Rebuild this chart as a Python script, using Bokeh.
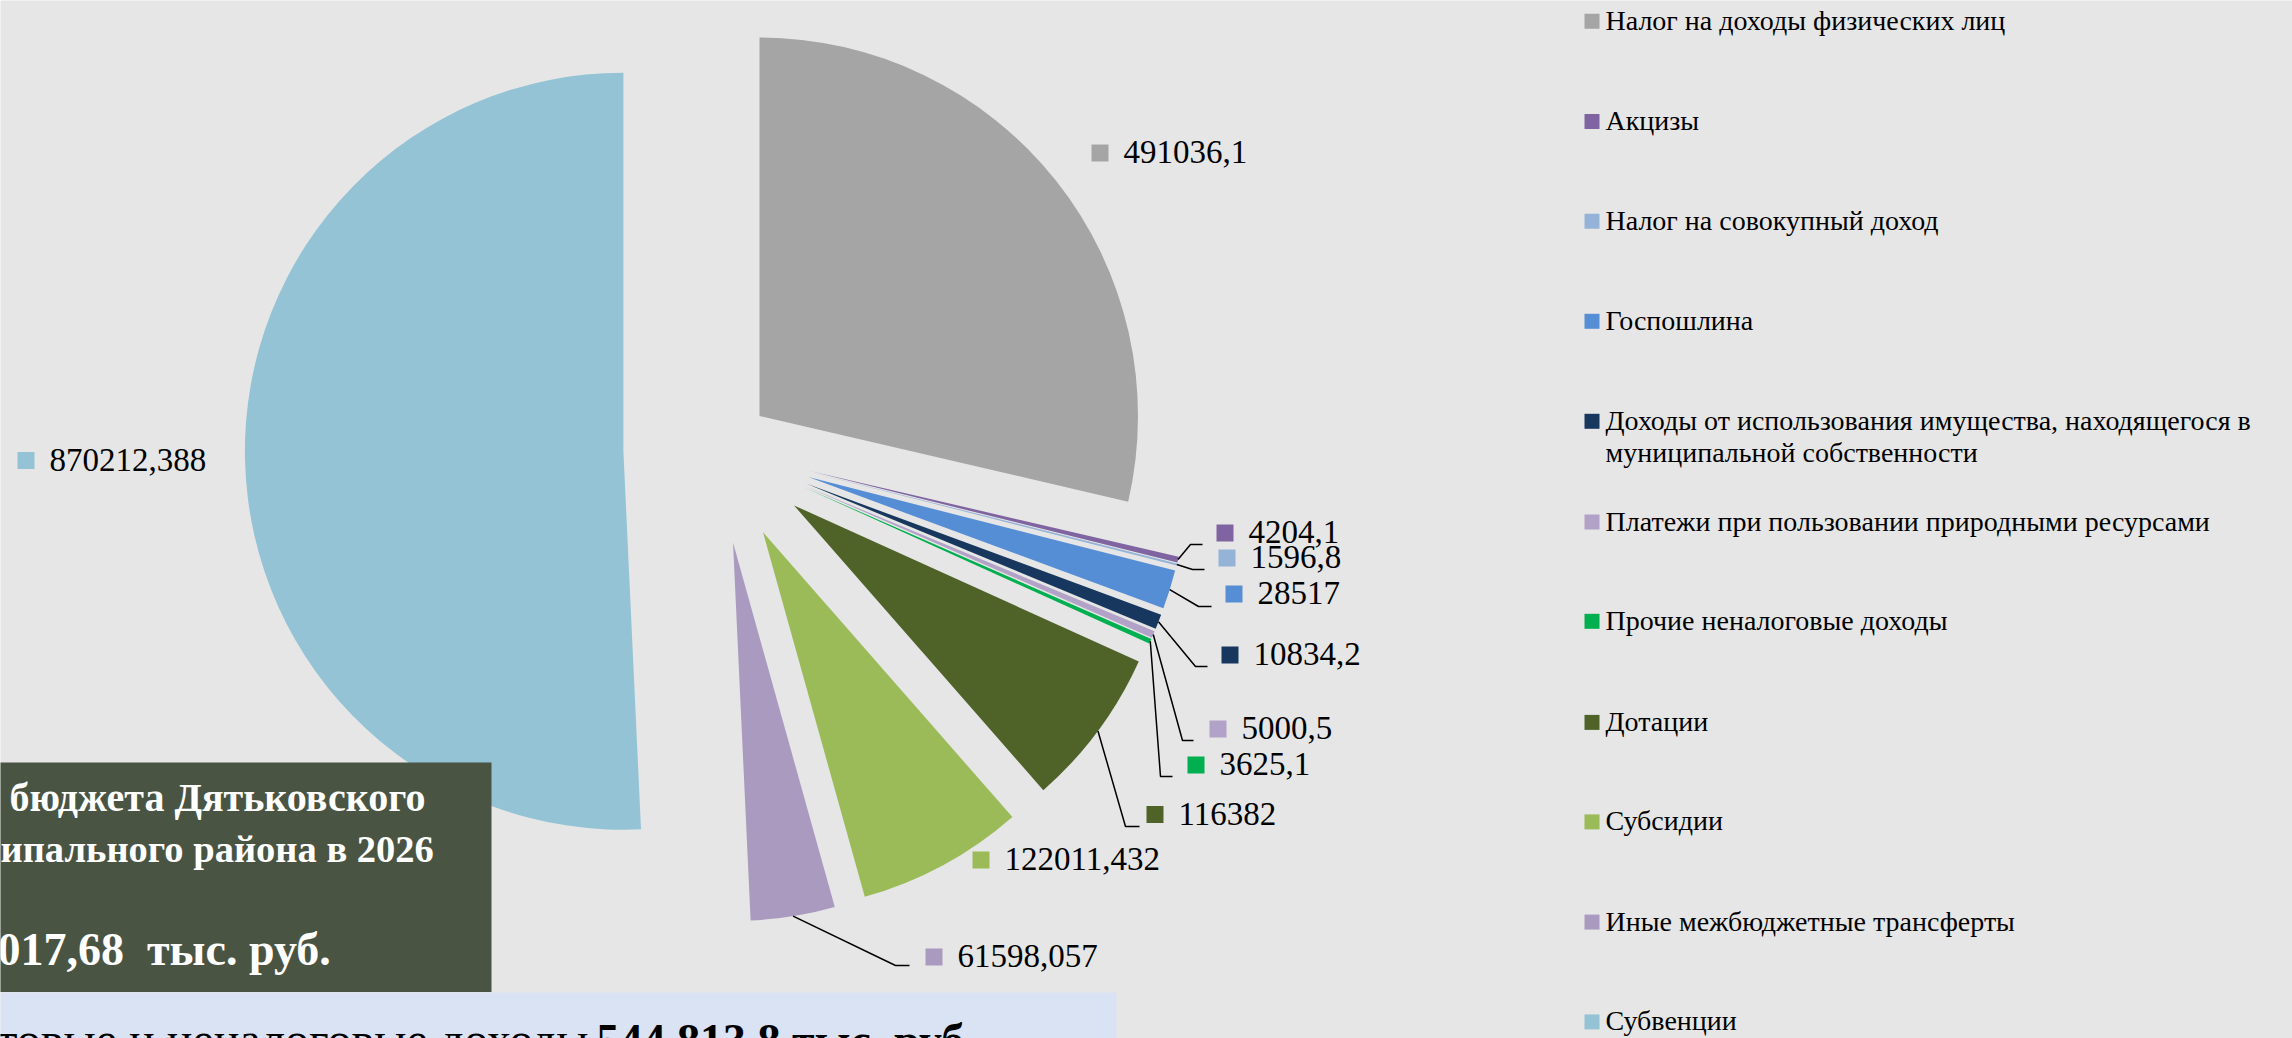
import textwrap
import numpy as np
from bokeh.plotting import figure
from bokeh.models import Range1d, ColumnDataSource, Label
from bokeh.core.properties import value
from bokeh.embed import file_html
from bokeh.resources import INLINE

# ---------------- data ----------------
categories = [
    "Налог на доходы физических лиц",
    "Акцизы",
    "Налог на совокупный доход",
    "Госпошлина",
    "Доходы от использования имущества, находящегося в муниципальной собственности",
    "Платежи при пользовании природными ресурсами",
    "Прочие неналоговые доходы",
    "Дотации",
    "Субсидии",
    "Иные межбюджетные трансферты",
    "Субвенции",
]
values = [491036.1, 4204.1, 1596.8, 28517, 10834.2, 5000.5, 3625.1,
          116382, 122011.432, 61598.057, 870212.388]
colors = ["#a5a5a5", "#8064a2", "#95b3d7", "#558ed5", "#17375e", "#b3a2c7",
          "#00b050", "#4f6228", "#9bbb59", "#aa9ac0", "#93c3d5"]

title_lines = ["бюджета Дятьковского", "ипального района в 2026", "017,68\u00a0 тыс. руб."]
bottom_regular = "товые и неналоговые доходы"
bottom_bold = "544 813,8 тыс. руб."

# ---------------- layout / style ----------------
W_REF, H_REF = 2292, 1038
FONT = "Liberation Serif"
BG = "#e6e6e6"
PIE_CX, PIE_CY, R = 717.5, 448.5, 378.5
explode = [0.14] + [0.25] * 10
BASE_SHIFT = 0.35  # em: correction between requested and drawn baseline

# label square left x, centre y (reference pixel space)
label_pos = [(1091, 152.5), (1216, 532.5), (1218, 557.5), (1225, 593.5),
             (1221, 654.5), (1209, 728.5), (1187, 764.5), (1146, 814),
             (972, 859.5), (925, 956.5), (17, 460)]
# leader elbows: index -> (elbow x, elbow y, end x)
leaders = {1: (1190, 544, 1202), 2: (1192, 569, 1204), 3: (1198, 606, 1211),
           4: (1195, 666, 1207), 5: (1182, 740, 1193), 6: (1160, 776, 1172),
           7: (1125, 826, 1139), 9: (895, 965, 909)}
legend_y = [20.8, 121, 220.8, 320.8, 420.8, 521.5, 620.8, 721.9, 821.4, 921.6, 1021.4]
LEG_SQ_X, LEG_TX = 1591.5, 1605
LEG_FS, LBL_FS = 28, 33


def Y(y):
    return H_REF - y


def base(y, fs):
    """requested baseline so that the drawn baseline lands at y (reference px)"""
    return Y(y - BASE_SHIFT * fs)


p = figure(width=W_REF, height=H_REF, x_range=Range1d(0, W_REF), y_range=Range1d(0, H_REF),
           x_axis_type=None, y_axis_type=None, output_backend="svg",
           toolbar_location=None, min_border=0)
p.min_border_left = p.min_border_right = p.min_border_top = p.min_border_bottom = 0
p.background_fill_color = BG
p.border_fill_color = BG
p.outline_line_color = None
p.grid.visible = False

# ---------------- pie ----------------
vals = np.array(values, dtype=float)
frac = vals / vals.sum()
th_end = np.cumsum(frac) * 360.0
th_start = th_end - frac * 360.0
th_mid = np.radians((th_start + th_end) / 2)
ux, uy = np.sin(th_mid), np.cos(th_mid)
dist = np.array(explode) * R
wx = PIE_CX + dist * ux
wy = Y(PIE_CY) + dist * uy

src = ColumnDataSource(dict(x=wx, y=wy, start=np.radians(90 - th_start),
                            end=np.radians(90 - th_end), color=colors))
p.wedge(x="x", y="y", radius=R, start_angle="start", end_angle="end",
        direction="clock", fill_color="color", line_color=None, source=src)

# ---------------- leader lines ----------------
xs, ys = [], []
for i, (ex, ey, ex2) in leaders.items():
    sx = wx[i] + R * ux[i]
    sy = wy[i] + R * uy[i]
    xs.append([sx, ex, ex2])
    ys.append([sy, Y(ey), Y(ey)])
p.multi_line(xs=xs, ys=ys, line_color="black", line_width=1.5)

# ---------------- data labels ----------------
lbl_text = [str(v).replace(".", ",") for v in values]
lsq_x = [lx + 8.5 for lx, _ in label_pos]
lsq_y = [Y(cy) for _, cy in label_pos]
ltx = [lx + 32 for lx, _ in label_pos]
lty = [base(cy + 11, LBL_FS) for _, cy in label_pos]
p.rect(x=lsq_x, y=lsq_y, width=17, height=17, fill_color=colors, line_color=None)
p.text(x=ltx, y=lty, text=lbl_text, text_font=value(FONT),
       text_font_size=f"{LBL_FS}px", text_color="black", text_baseline="alphabetic")

# ---------------- legend ----------------
p.rect(x=[LEG_SQ_X] * len(categories), y=[Y(v) for v in legend_y], width=15, height=15,
       fill_color=colors, line_color=None)
lg_x, lg_y, lg_t = [], [], []
for i, name in enumerate(categories):
    for j, line in enumerate(textwrap.wrap(name, 52)):
        lg_x.append(LEG_TX)
        lg_y.append(base(legend_y[i] + j * 32.5 + 8.8, LEG_FS))
        lg_t.append(line)
p.text(x=lg_x, y=lg_y, text=lg_t, text_font=value(FONT), text_font_size=f"{LEG_FS}px",
       text_color="black", text_baseline="alphabetic")

# ---------------- bottom-left boxes ----------------
p.quad(left=[-20], right=[491], top=[Y(762)], bottom=[Y(991.5)],
       fill_color="#4a5443", line_color=None)
p.quad(left=[-20], right=[1116], top=[Y(992)], bottom=[Y(1060)],
       fill_color="#dae3f3", line_color=None)

for (tx, ty, fs), t in zip([(9, 811, 40), (0, 862, 38.5), (-3, 965, 46)], title_lines):
    p.add_layout(Label(x=tx, y=base(ty, fs), text=t, text_font=FONT, text_font_style="bold",
                       text_font_size=f"{fs}px", text_color="white",
                       text_baseline="alphabetic"))
p.add_layout(Label(x=-4, y=base(1056, 48), text=bottom_regular, text_font=FONT,
                   text_font_size="48px", text_color="black", text_baseline="alphabetic"))
p.add_layout(Label(x=596, y=base(1056, 46), text=bottom_bold, text_font=FONT,
                   text_font_style="bold", text_font_size="46px", text_color="black",
                   text_baseline="alphabetic"))

open("out.html", "w").write(file_html(p, INLINE))
